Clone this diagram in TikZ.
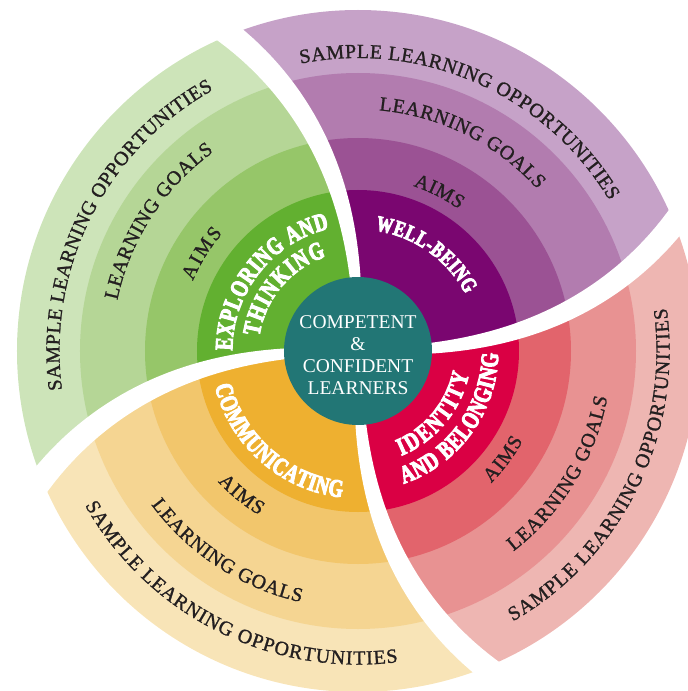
\documentclass[tikz,border=0pt]{standalone}
\usepackage{fontspec}
\setmainfont{Liberation Serif}
\newfontfamily\corefont[FakeStretch=0.75,FakeBold=4]{Liberation Serif Bold}
\newfontfamily\ringfam[FakeBold=1.2]{Liberation Serif}
\usetikzlibrary{decorations.text}

%% colours of each quarter, outer ring to core
\definecolor{grnA}{HTML}{CDE4B9}
\definecolor{grnB}{HTML}{B5D696}
\definecolor{grnC}{HTML}{96C669}
\definecolor{grnD}{HTML}{62B030}
\definecolor{purA}{HTML}{C6A2C8}
\definecolor{purB}{HTML}{B27CAF}
\definecolor{purC}{HTML}{9B5294}
\definecolor{purD}{HTML}{7A0670}
\definecolor{redA}{HTML}{EEB6B2}
\definecolor{redB}{HTML}{E89292}
\definecolor{redC}{HTML}{E2646C}
\definecolor{redD}{HTML}{DA0044}
\definecolor{ylwA}{HTML}{F8E4B7}
\definecolor{ylwB}{HTML}{F5D592}
\definecolor{ylwC}{HTML}{F2C66C}
\definecolor{ylwD}{HTML}{EEB030}
\definecolor{coreteal}{HTML}{227675}
\definecolor{labtext}{HTML}{231F20}

\newcommand\ringfont{\ringfam\fontsize{20}{24}\selectfont\color{labtext}}
\newcommand\corefontA{\corefont\fontsize{25}{28}\selectfont\color{white}}
\newcommand\corefontB{\corefont\fontsize{22}{25}\selectfont\color{white}}

%% one quarter of the wheel: #1 = heading of its first edge, #2-#5 = colours
\newcommand\wheelquarter[5]{%
  \begin{scope}
    \clip plot[domain=0:380,samples=40] ({#1+tw(\x)}:\x)
      arc[start angle=#1+25.88, end angle=#1+115.88, radius=380]
      -- plot[domain=380:0,samples=40] ({#1+90+tw(\x)}:\x) -- cycle;
    \fill[#2] (0,0) circle[radius=341];
    \fill[#3] (0,0) circle[radius=278];
    \fill[#4] (0,0) circle[radius=213];
    \fill[#5] (0,0) circle[radius=161];
  \end{scope}}
%% white gap along an edge, wider at the rim
\newcommand\wheelgap[1]{%
  \fill[white] plot[domain=60:380,samples=40] ({#1+tw(\x)+hw(\x)}:\x)
    -- plot[domain=380:60,samples=40] ({#1+tw(\x)-hw(\x)}:\x) -- cycle;}

\tikzset{
  ringtext/.style={decorate,decoration={text along path,text align={fit to path},text={#1}}}
}

\begin{document}
\begin{tikzpicture}[x=1pt,y=1pt,
    declare function={tw(\x)=22*(\x/341)*sqrt(\x/341);hw(\x)=171.9/\x+1.86;}]
    \useasboundingbox (-358,-340) rectangle (330,351);
    %% the four quarters
    \wheelquarter{0}{purA}{purB}{purC}{purD}
    \wheelquarter{90}{grnA}{grnB}{grnC}{grnD}
    \wheelquarter{180}{ylwA}{ylwB}{ylwC}{ylwD}
    \wheelquarter{270}{redA}{redB}{redC}{redD}
    \wheelgap{0}
    \wheelgap{90}
    \wheelgap{180}
    \wheelgap{270}
    %% centre
    \node[circle,fill=coreteal,minimum size=148,inner sep=0] (learners) at (0,0) {};
    \node[text=white,align=center,font=\fontsize{19.5}{22}\selectfont] (learnerstext) at (0,-4) {COMPETENT\\\&\\CONFIDENT\\LEARNERS};
    %% exploring and thinking
    \path[ringtext={|\ringfont|SAMPLE LEARNING OPPORTUNITIES}] (187.5:298.5) arc[start angle=187.5,end angle=119,radius=298.5];
    \path[ringtext={|\ringfont|LEARNING GOALS}] (168.1:246) arc[start angle=168.1,end angle=125.9,radius=246];
    \path[ringtext={|\ringfont|AIMS}] (157:179.4) arc[start angle=157,end angle=139,radius=179.4];
    \path[ringtext={|\corefontA|EXPLORING AND}] (179.8:125.7) arc[start angle=179.8,end angle=103.2,radius=125.7];
    \path[ringtext={|\corefontA|THINKING}] (171.5:99.7) arc[start angle=171.5,end angle=108.7,radius=99.7];
    %% well-being
    \path[ringtext={|\ringfont|SAMPLE LEARNING OPPORTUNITIES}] (101.3:293) arc[start angle=101.3,end angle=30.9,radius=293];
    \path[ringtext={|\ringfont|LEARNING GOALS}] (85:241.6) arc[start angle=85,end angle=42,radius=241.6];
    \path[ringtext={|\ringfont|AIMS}] (71.5:174) arc[start angle=71.5,end angle=54.5,radius=174];
    \path[ringtext={|\corefontB|WELL-BEING}] (81.8:121.7) arc[start angle=81.8,end angle=27.9,radius=121.7];
    %% identity and belonging
    \path[ringtext={|\ringfont|SAMPLE LEARNING OPPORTUNITIES}] (-60.2:311.6) arc[start angle=-60.2,end angle=7.9,radius=311.6];
    \path[ringtext={|\ringfont|LEARNING GOALS}] (-52.2:253.6) arc[start angle=-52.2,end angle=-10.5,radius=253.6];
    \path[ringtext={|\ringfont|AIMS}] (-44.8:187.6) arc[start angle=-44.8,end angle=-28.5,radius=187.6];
    \path[ringtext={|\corefontA|IDENTITY}] (-67.5:113.3) arc[start angle=-67.5,end angle=-11.8,radius=113.3];
    \path[ringtext={|\corefontA|AND BELONGING}] (-71:140.3) arc[start angle=-71,end angle=-1,radius=140.3];
    %% communicating
    \path[ringtext={|\ringfont|SAMPLE LEARNING OPPORTUNITIES}] (209.5:313.6) arc[start angle=209.5,end angle=277.3,radius=313.6];
    \path[ringtext={|\ringfont|LEARNING GOALS}] (216.6:257.6) arc[start angle=216.6,end angle=257.2,radius=257.6];
    \path[ringtext={|\ringfont|AIMS}] (223:191.6) arc[start angle=223,end angle=239,radius=191.6];
    \path[ringtext={|\corefontA|COMMUNICATING}] (193.8:147.3) arc[start angle=193.8,end angle=263.7,radius=147.3];
\end{tikzpicture}
\end{document}
